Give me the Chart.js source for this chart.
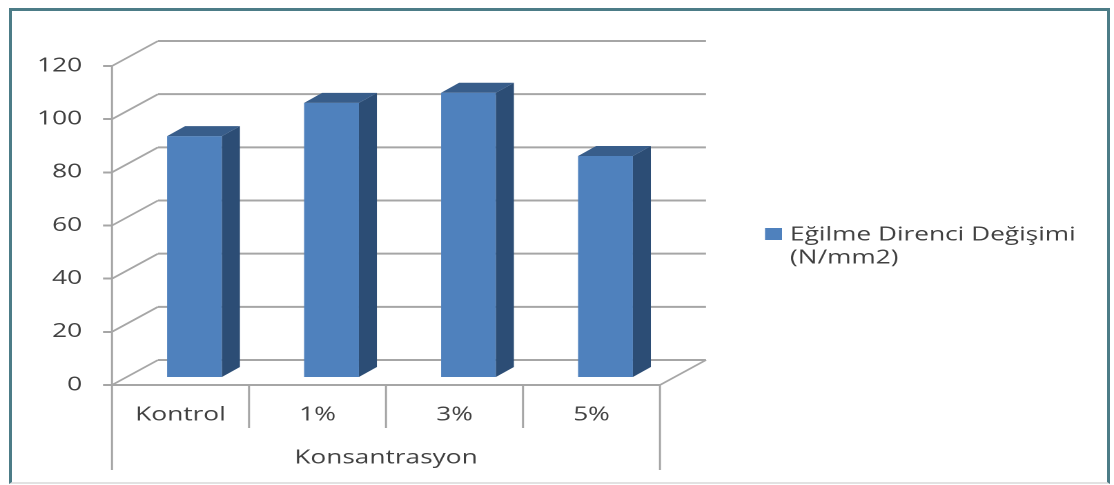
<!DOCTYPE html>
<html>
<head>
<meta charset="utf-8">
<script src="https://cdn.jsdelivr.net/npm/chart.js@4.4.1/dist/chart.umd.min.js"></script>
<style>
  html, body { margin: 0; padding: 0; background: #fff; overflow: hidden; }
  #frame {
    position: absolute; left: 9px; top: 8px; width: 1095px; height: 471px;
    border: 3px solid #4c7c87; border-bottom: 2px solid #e2e2e2;
  }
  /* the chart is laid out narrow and stretched sideways */
  #wrap {
    position: absolute; left: 0; top: 0; width: 807px; height: 485px;
    transform: scaleX(1.38042); transform-origin: 0 0;
  }
</style>
</head>
<body>
<div id="frame"></div>
<div id="wrap"><canvas id="myChart"></canvas></div>
<script>
// Data
const categories = ['Kontrol', '1%', '3%', '5%'];
const values = [91, 103.5, 107.3, 83.5];
const seriesLabel = ['Eğilme Direnci Değişimi', '(N/mm2)'];
const axisTitle = 'Konsantrasyon';
const yMax = 120;
const yStep = 20;

const STRETCH = 1114 / 807;
const GRID = '#a6a6a6';
const TEXT = '#404040';
const FRONT = '#4f81bd';
const SIDE = '#2c4d75';
const TOP = '#385d8a';

// depth offsets (canvas units, before the sideways stretch)
const WALL = { dx: 46 / STRETCH, dy: -25 };      // back wall
const BAR_FRONT = { dx: 14 / STRETCH, dy: -7 };  // front face of the bars
const BAR_DEPTH = { dx: 18 / STRETCH, dy: -10 }; // thickness of a bar

Chart.defaults.font.family = '"Open Sans", sans-serif';
Chart.defaults.font.size = 19;
Chart.defaults.color = TEXT;

function line(ctx, x1, y1, x2, y2) {
    ctx.beginPath();
    ctx.moveTo(x1, y1);
    ctx.lineTo(x2, y2);
    ctx.stroke();
}

// walls, floor and bar sides for the 3D look
const box3d = {
    id: 'box3d',
    beforeDatasetsDraw(chart) {
        const { ctx, chartArea: a, scales: { x, y } } = chart;
        ctx.save();
        ctx.strokeStyle = GRID;
        y.ticks.forEach(t => {
            const py = y.getPixelForValue(t.value);
            ctx.lineWidth = 1.7;
            line(ctx, a.left, py, a.left + WALL.dx, py + WALL.dy);
            ctx.lineWidth = 2;
            line(ctx, a.left + WALL.dx, py + WALL.dy, a.right + WALL.dx, py + WALL.dy);
        });
        // floor edges
        ctx.lineWidth = 2;
        line(ctx, a.left, a.bottom, a.right, a.bottom);
        ctx.lineWidth = 1.7;
        line(ctx, a.right, a.bottom, a.right + WALL.dx, a.bottom + WALL.dy);
        // value axis and category dividers
        ctx.lineWidth = 1.5;
        line(ctx, a.left, a.top, a.left, 470);
        line(ctx, a.right, a.bottom, a.right, 470);
        for (let i = 1; i < categories.length; i++) {
            const bx = (x.getPixelForValue(i - 1) + x.getPixelForValue(i)) / 2;
            line(ctx, bx, a.bottom, bx, 428);
        }
        ctx.restore();

        // push the bars back into the floor
        ctx.save();
        ctx.translate(BAR_FRONT.dx, BAR_FRONT.dy);
    },
    afterDatasetsDraw(chart) {
        const ctx = chart.ctx;
        chart.getDatasetMeta(0).data.forEach(bar => {
            const { x, y, base, width } = bar.getProps(['x', 'y', 'base', 'width'], true);
            const x0 = x - width / 2, x1 = x + width / 2;
            const { dx, dy } = BAR_DEPTH;
            ctx.fillStyle = SIDE;
            ctx.beginPath();
            ctx.moveTo(x1, y);
            ctx.lineTo(x1 + dx, y + dy);
            ctx.lineTo(x1 + dx, base + dy);
            ctx.lineTo(x1, base);
            ctx.closePath();
            ctx.fill();
            ctx.fillStyle = TOP;
            ctx.beginPath();
            ctx.moveTo(x0, y);
            ctx.lineTo(x0 + dx, y + dy);
            ctx.lineTo(x1 + dx, y + dy);
            ctx.lineTo(x1, y);
            ctx.closePath();
            ctx.fill();
        });
        ctx.restore();
    },
    afterDraw(chart) {
        // legend on the right
        const ctx = chart.ctx;
        ctx.save();
        ctx.fillStyle = FRONT;
        ctx.fillRect(554.2, 228, 12.3, 12);
        ctx.fillStyle = TEXT;
        ctx.font = '19px "Open Sans", sans-serif';
        ctx.textBaseline = 'middle';
        ctx.textAlign = 'left';
        seriesLabel.forEach((txt, i) => ctx.fillText(txt, 572.3, 235 + i * 23));
        ctx.restore();
    }
};

const ctx1 = document.getElementById('myChart');

const myChart = new Chart(ctx1, {
    type: 'bar',
    data: {
        labels: categories,
        datasets: [{
            label: seriesLabel.join(' '),
            data: values,
            backgroundColor: FRONT,
            borderWidth: 0,
            categoryPercentage: 1,
            barPercentage: 0.4
        }]
    },
    options: {
        responsive: true,
        maintainAspectRatio: false,
        devicePixelRatio: 2,
        animation: false,
        layout: { padding: { top: 66, right: 328.9, left: 0, bottom: 0 } },
        plugins: {
            legend: { display: false },
            tooltip: { enabled: false }
        },
        scales: {
            x: {
                grid: { display: false, drawTicks: false },
                border: { display: false },
                ticks: { padding: 18.6 },
                title: {
                    display: true,
                    text: axisTitle,
                    padding: { top: 4, bottom: 15.6 }
                },
                afterFit(scale) { scale.height = 100; }
            },
            y: {
                min: 0,
                max: yMax,
                ticks: { stepSize: yStep, padding: 15.2 },
                grid: {
                    drawOnChartArea: false,
                    drawTicks: true,
                    tickLength: 6.5,
                    color: GRID,
                    lineWidth: 2
                },
                border: { display: false },
                afterFit(scale) { scale.width = 112 / STRETCH; }
            }
        }
    },
    plugins: [box3d]
});
</script>
</body>
</html>
